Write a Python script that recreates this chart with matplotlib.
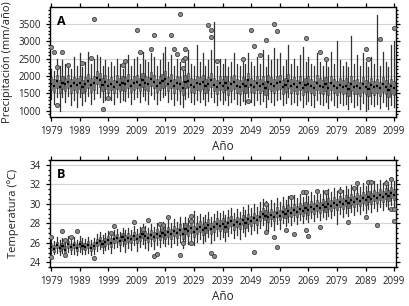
import matplotlib
matplotlib.use('Agg')
import matplotlib.pyplot as plt
from matplotlib.ticker import MultipleLocator

plt.rcParams['font.family'] = ['Open Sans', 'DejaVu Sans']

years = list(range(1979, 2100))
xticks = list(range(1979, 2100, 10))

# Panel A - precipitacion anual (mm/año)
prec_med = [1780, 1720, 1850, 1690, 1800, 1760, 1830, 1700, 1790, 1740,
            1810, 1680, 1770, 1860, 1730, 1800, 1950, 1880, 1750, 1820,
            1700, 1780, 1690, 1820, 1740, 1800, 1760, 1850, 1720, 1790,
            1830, 1750, 1880, 1800, 1760, 1900, 1840, 1720, 1790, 1860,
            1920, 1780, 1850, 1700, 1810, 1760, 1640, 1830, 1870, 1740,
            1690, 1800, 1760, 1820, 1700, 1780, 1880, 1750, 1690, 1800,
            1720, 1790, 1650, 1760, 1830, 1710, 1680, 1770, 1700, 1880,
            1740, 1690, 1800, 1720, 1780, 1650, 1820, 1760, 1700, 1790,
            1830, 1680, 1740, 1860, 1710, 1770, 1690, 1800, 1650, 1730,
            1780, 1700, 1660, 1810, 1720, 1690, 1760, 1640, 1800, 1700,
            1650, 1740, 1690, 1720, 1620, 1780, 1680, 1700, 1640, 1760,
            1690, 1620, 1730, 1670, 1710, 1640, 1760, 1680, 1600, 1700,
            1660]
prec_q1 = [1600, 1540, 1650, 1500, 1620, 1570, 1640, 1520, 1590, 1550,
           1620, 1500, 1580, 1660, 1550, 1600, 1760, 1690, 1560, 1630,
           1510, 1590, 1500, 1620, 1560, 1610, 1570, 1650, 1530, 1600,
           1640, 1560, 1680, 1610, 1570, 1700, 1640, 1530, 1600, 1660,
           1720, 1580, 1650, 1510, 1620, 1560, 1450, 1640, 1670, 1550,
           1500, 1610, 1560, 1620, 1500, 1590, 1680, 1560, 1490, 1610,
           1530, 1590, 1460, 1570, 1630, 1520, 1490, 1570, 1500, 1690,
           1540, 1500, 1600, 1520, 1580, 1460, 1620, 1560, 1500, 1590,
           1630, 1480, 1540, 1660, 1510, 1570, 1490, 1600, 1460, 1530,
           1580, 1500, 1460, 1600, 1520, 1490, 1560, 1440, 1590, 1500,
           1450, 1540, 1480, 1520, 1410, 1570, 1470, 1490, 1420, 1550,
           1480, 1410, 1520, 1460, 1500, 1430, 1550, 1470, 1390, 1490,
           1450]
prec_q3 = [1960, 1900, 2030, 1880, 1990, 1950, 2020, 1900, 1980, 1930,
           2000, 1880, 1960, 2060, 1930, 2010, 2150, 2080, 1950, 2020,
           1900, 1980, 1890, 2020, 1940, 2000, 1960, 2050, 1920, 1990,
           2030, 1950, 2090, 2000, 1960, 2110, 2040, 1920, 1990, 2060,
           2130, 1980, 2050, 1900, 2010, 1960, 1850, 2040, 2080, 1940,
           1900, 2000, 1960, 2030, 1900, 1980, 2080, 1950, 1890, 2000,
           1920, 1990, 1860, 1960, 2040, 1910, 1880, 1980, 1900, 2080,
           1950, 1890, 2010, 1920, 1990, 1860, 2030, 1960, 1900, 2000,
           2040, 1880, 1950, 2070, 1910, 1980, 1890, 2010, 1850, 1940,
           1990, 1900, 1860, 2020, 1930, 1890, 1970, 1840, 2010, 1900,
           1860, 1950, 1890, 1930, 1820, 1990, 1880, 1910, 1840, 1970,
           1890, 1820, 1940, 1870, 1920, 1840, 1970, 1880, 1800, 1910,
           1860]
prec_lo = [1350, 1200, 1400, 1000, 1380, 1250, 1420, 1150, 1300, 1100,
           1400, 1150, 1280, 1420, 1200, 1350, 1500, 1400, 1250, 1300,
           1450, 1300, 1200, 1380, 1250, 1320, 1280, 1400, 1200, 1330,
           1380, 1250, 1420, 1300, 1200, 1450, 1350, 1180, 1300, 1400,
           1450, 1250, 1350, 1150, 1300, 1200, 1100, 1350, 1400, 1250,
           1200, 1300, 1250, 1350, 1150, 1280, 1400, 1250, 1150, 1300,
           1200, 1300, 1150, 1250, 1350, 1180, 1150, 1280, 1200, 1400,
           1250, 1150, 1300, 1200, 1280, 1100, 1350, 1250, 1150, 1300,
           1350, 1150, 1230, 1380, 1180, 1250, 1150, 1300, 1100, 1200,
           1280, 1150, 1100, 1300, 1200, 1150, 1250, 1080, 1300, 1150,
           1100, 1220, 1150, 1200, 1050, 1250, 1100, 1150, 1050, 1230,
           1000, 1050, 1200, 1120, 1180, 1080, 1250, 1130, 1050, 1150,
           1100]
prec_hi = [2200, 2150, 2500, 2300, 2450, 2350, 2250, 2200, 2550, 2300,
           2650, 2250, 2400, 2700, 2350, 2500, 2600, 2550, 2300, 2450,
           2250, 2400, 2300, 2500, 2350, 2200, 2400, 2600, 2300, 2500,
           2550, 2350, 2700, 2450, 2400, 2650, 2550, 2300, 2450, 2650,
           2850, 2400, 2600, 2300, 2500, 2400, 2150, 2400, 2750, 2350,
           2300, 2900, 2400, 2650, 2300, 2450, 2750, 3550, 2300, 2500,
           2350, 2500, 2250, 2400, 2650, 2350, 2300, 2450, 2350, 2650,
           2400, 2300, 2550, 2350, 2750, 2250, 2600, 2450, 2800, 2500,
           2650, 2300, 2450, 2900, 2350, 2500, 2300, 2600, 2850, 2400,
           2550, 2350, 2300, 2650, 2400, 2300, 2400, 2250, 2700, 2350,
           3000, 2450, 2300, 2400, 2250, 3150, 2350, 2600, 2300, 2650,
           2400, 2250, 2550, 2350, 3750, 2300, 2700, 2400, 2250, 2900,
           3000]
prec_out_x = [1979, 1980, 1981, 1981, 1983, 1985, 1990, 1993, 1994, 1997,
              1999, 2004, 2005, 2009, 2010, 2014, 2015, 2021, 2022, 2023,
              2024, 2025, 2025, 2026, 2026, 2034, 2035, 2035, 2037, 2046,
              2048, 2049, 2050, 2052, 2054, 2057, 2058, 2068, 2073, 2075,
              2089, 2090, 2094, 2099]
prec_out_y = [2840, 2700, 2260, 1160, 2700, 2320, 2380, 2520, 3650, 1050,
              1370, 2320, 2440, 3330, 2700, 2780, 3190, 3190, 2780, 2640,
              3790, 2230, 2460, 2780, 2520, 3480, 3330, 3130, 2440, 2490,
              1280, 3330, 2870, 2610, 3040, 3500, 3300, 3100, 2700, 2490,
              2780, 2490, 3070, 3390]

# Panel B - temperatura media (ºC)
temp_med = [25.6, 25.4, 25.8, 25.5, 25.7, 25.3, 25.9, 25.6, 25.8, 25.5,
            25.9, 25.7, 25.6, 25.8, 25.5, 25.7, 26.0, 26.2, 25.9, 26.1,
            26.3, 26.0, 26.4, 26.5, 26.2, 26.6, 26.3, 26.5, 26.4, 26.7,
            26.4, 26.6, 26.9, 26.7, 26.5, 26.8, 26.6, 26.9, 26.7, 27.0,
            26.8, 27.1, 26.9, 27.2, 27.0, 27.3, 26.9, 27.4, 27.2, 27.5,
            27.1, 27.4, 27.6, 27.3, 27.5, 27.8, 27.4, 27.6, 27.9, 27.7,
            27.9, 27.6, 28.0, 28.2, 27.8, 28.1, 27.9, 28.3, 28.0, 28.4,
            28.2, 28.5, 28.3, 28.7, 29.0, 28.8, 28.6, 28.9, 28.7, 29.1,
            28.8, 29.2, 29.0, 29.3, 29.1, 29.4, 29.2, 29.5, 29.3, 29.6,
            29.4, 29.7, 29.5, 29.8, 29.6, 29.9, 29.7, 30.0, 29.8, 30.1,
            29.9, 30.2, 30.0, 30.3, 30.1, 30.4, 30.2, 30.5, 30.3, 30.6,
            30.4, 30.7, 30.5, 30.8, 30.6, 30.9, 30.7, 31.0, 30.8, 31.1,
            30.9]
temp_q1 = [25.3, 25.1, 25.5, 25.2, 25.4, 25.0, 25.5, 25.3, 25.5, 25.2,
           25.6, 25.4, 25.3, 25.5, 25.2, 25.4, 25.7, 25.8, 25.6, 25.7,
           25.9, 25.6, 26.0, 26.1, 25.8, 26.2, 25.9, 26.1, 26.0, 26.3,
           26.0, 26.2, 26.5, 26.3, 26.1, 26.4, 26.2, 26.5, 26.3, 26.6,
           26.4, 26.6, 26.4, 26.7, 26.5, 26.8, 26.4, 26.9, 26.7, 27.0,
           26.6, 26.9, 27.1, 26.8, 27.0, 27.3, 26.9, 27.1, 27.4, 27.2,
           27.4, 27.1, 27.5, 27.7, 27.3, 27.6, 27.4, 27.8, 27.5, 27.9,
           27.7, 28.0, 27.8, 28.2, 28.5, 28.3, 28.1, 28.4, 28.2, 28.6,
           28.3, 28.7, 28.5, 28.8, 28.6, 28.9, 28.7, 29.0, 28.8, 29.1,
           28.9, 29.2, 29.0, 29.3, 29.1, 29.4, 29.2, 29.5, 29.3, 29.6,
           29.4, 29.7, 29.5, 29.8, 29.6, 29.9, 29.7, 30.0, 29.8, 30.1,
           29.9, 30.2, 30.0, 30.3, 30.1, 30.4, 30.2, 30.5, 30.3, 30.6,
           30.4]
temp_q3 = [25.9, 25.8, 26.1, 25.8, 26.0, 25.7, 26.2, 25.9, 26.1, 25.9,
           26.2, 26.0, 26.0, 26.2, 25.9, 26.1, 26.4, 26.6, 26.3, 26.5,
           26.7, 26.5, 26.8, 26.9, 26.6, 27.0, 26.8, 27.0, 26.8, 27.1,
           26.9, 27.0, 27.3, 27.2, 27.0, 27.3, 27.1, 27.4, 27.2, 27.5,
           27.3, 27.6, 27.4, 27.7, 27.5, 27.9, 27.5, 28.0, 27.8, 28.1,
           27.7, 28.0, 28.2, 27.9, 28.1, 28.4, 28.0, 28.2, 28.5, 28.3,
           28.5, 28.2, 28.6, 28.8, 28.4, 28.7, 28.5, 28.9, 28.6, 29.0,
           28.8, 29.1, 28.9, 29.3, 29.6, 29.4, 29.2, 29.5, 29.3, 29.7,
           29.4, 29.8, 29.6, 29.9, 29.7, 30.0, 29.8, 30.1, 29.9, 30.2,
           30.0, 30.3, 30.1, 30.4, 30.2, 30.5, 30.3, 30.6, 30.4, 30.7,
           30.5, 30.8, 30.6, 30.9, 30.7, 31.0, 30.8, 31.1, 30.9, 31.2,
           31.0, 31.3, 31.1, 31.4, 31.2, 31.5, 31.3, 31.6, 31.4, 31.7,
           31.5]
temp_lo = [24.9, 24.8, 25.0, 24.7, 25.0, 24.6, 25.1, 24.8, 24.9, 24.7,
           25.1, 24.9, 24.8, 25.0, 24.7, 24.9, 25.2, 25.4, 25.0, 25.3,
           25.4, 25.0, 25.5, 25.6, 25.2, 25.7, 25.1, 25.5, 25.3, 25.8,
           25.2, 25.6, 25.9, 25.5, 25.3, 25.7, 25.4, 25.8, 25.6, 26.0,
           25.7, 25.9, 25.6, 26.0, 25.8, 26.1, 25.5, 26.2, 25.9, 26.3,
           25.8, 26.1, 26.4, 26.0, 26.2, 26.6, 26.0, 26.3, 26.7, 26.4,
           26.6, 26.2, 26.7, 27.0, 26.5, 26.8, 26.4, 27.1, 26.7, 27.2,
           26.9, 27.3, 27.0, 27.5, 27.8, 27.4, 27.2, 27.7, 27.3, 27.9,
           27.4, 28.0, 27.7, 28.1, 27.8, 28.2, 27.9, 28.3, 28.0, 28.4,
           28.1, 28.5, 28.2, 28.6, 28.3, 28.7, 28.4, 28.8, 28.5, 28.9,
           27.9, 29.0, 28.7, 29.1, 28.8, 29.2, 28.9, 29.3, 29.0, 29.4,
           29.1, 29.5, 29.2, 29.6, 29.3, 29.7, 29.4, 29.8, 29.5, 29.9,
           29.6]
temp_hi = [26.3, 26.2, 26.6, 26.3, 26.5, 26.1, 26.7, 26.4, 26.6, 26.3,
           26.7, 26.5, 26.4, 26.6, 26.3, 26.5, 26.9, 27.1, 26.8, 27.0,
           27.2, 26.9, 27.3, 27.4, 27.1, 27.5, 27.3, 27.5, 27.3, 27.7,
           27.4, 27.6, 27.9, 27.7, 27.5, 27.9, 27.6, 28.0, 27.8, 28.1,
           27.9, 28.3, 28.0, 28.4, 28.1, 28.6, 28.0, 28.7, 28.5, 28.8,
           29.3, 28.8, 29.0, 28.6, 28.9, 29.2, 28.7, 29.0, 29.3, 29.1,
           29.3, 28.9, 29.4, 29.6, 29.1, 29.5, 29.2, 29.7, 29.4, 29.9,
           29.6, 30.0, 29.7, 30.2, 30.5, 30.3, 30.0, 30.4, 30.1, 30.6,
           30.2, 30.7, 30.4, 30.8, 30.5, 30.9, 30.6, 31.0, 30.7, 31.1,
           30.8, 31.2, 30.9, 31.3, 31.0, 31.4, 31.1, 31.5, 31.2, 31.6,
           31.3, 31.7, 31.4, 31.8, 31.5, 31.9, 31.6, 32.0, 31.7, 32.1,
           31.8, 32.2, 31.9, 32.3, 32.0, 32.4, 32.1, 32.5, 32.2, 32.6,
           32.3]
temp_out_x = [1979, 1979, 1983, 1984, 1984, 1986, 1988, 1994, 2000, 2001,
              2008, 2011, 2013, 2015, 2016, 2017, 2018, 2020, 2024, 2025,
              2028, 2028, 2028, 2035, 2036, 2050, 2054, 2054, 2057, 2058,
              2061, 2063, 2064, 2067, 2068, 2068, 2069, 2072, 2073, 2075,
              2080, 2083, 2085, 2086, 2089, 2090, 2091, 2093, 2096, 2098,
              2098, 2099, 2099]
temp_out_y = [26.6, 24.5, 27.2, 26.3, 24.7, 26.6, 27.2, 24.4, 27.0, 27.7,
              28.1, 27.4, 28.3, 24.6, 24.9, 27.9, 27.8, 28.6, 24.7, 26.0,
              28.8, 28.2, 26.0, 25.0, 24.6, 25.1, 30.0, 27.1, 26.6, 25.6,
              27.3, 30.7, 26.9, 31.2, 31.2, 27.3, 26.7, 31.3, 27.6, 31.2,
              31.3, 28.1, 31.6, 32.1, 28.7, 32.2, 32.2, 27.8, 32.1, 32.6,
              29.5, 29.5, 28.2]


def dibujar_cajas(ax, med, q1, q3, lo, hi, out_x, out_y):
    stats = []
    for i in range(len(years)):
        stats.append({'med': med[i], 'q1': q1[i], 'q3': q3[i],
                      'whislo': lo[i], 'whishi': hi[i], 'fliers': []})
    ax.bxp(stats, positions=years, widths=0.75, patch_artist=True,
           showfliers=False, showcaps=False, manage_ticks=False,
           boxprops=dict(facecolor='#6e6e6e', edgecolor='#4a4a4a', linewidth=0.4),
           whiskerprops=dict(color='#333333', linewidth=0.9),
           medianprops=dict(color='black', linewidth=1.6))
    ax.plot(out_x, out_y, 'o', ms=3.0, mfc='#8c8c8c', mec='#404040',
            mew=0.6, zorder=5)
    ax.set_xlim(1978.6, 2099.6)
    ax.set_xticks(xticks)
    ax.set_xticklabels([str(x) for x in xticks], fontsize=7, color='#222222')
    ax.tick_params(axis='x', direction='out', length=3, top=True, width=0.9)
    ax.tick_params(axis='y', which='both', direction='out', right=True,
                   labelsize=7, labelcolor='#222222', width=0.9)
    ax.tick_params(axis='y', which='major', length=3)
    ax.tick_params(axis='y', which='minor', length=1.5)
    ax.grid(axis='y', color='#d4d4d4', linewidth=0.8)
    ax.set_axisbelow(True)
    for s in ax.spines.values():
        s.set_linewidth(1.0)
    ax.set_xlabel('Año', fontsize=8.5, color='#222222', labelpad=2)


fig = plt.figure(figsize=(4.09, 3.06), dpi=100)
ax1 = fig.add_axes([0.122, 0.618, 0.846, 0.359])
ax2 = fig.add_axes([0.122, 0.127, 0.846, 0.350])

dibujar_cajas(ax1, prec_med, prec_q1, prec_q3, prec_lo, prec_hi, prec_out_x, prec_out_y)
ax1.set_ylim(820, 3990)
ax1.set_yticks([1000, 1500, 2000, 2500, 3000, 3500])
ax1.yaxis.set_minor_locator(MultipleLocator(100))
ax1.set_ylabel('Precipitación (mm/año)', fontsize=8, color='#222222', labelpad=4)
ax1.text(0.02, 0.93, 'A', transform=ax1.transAxes, fontsize=9, fontweight='bold',
         va='top', ha='left')

dibujar_cajas(ax2, temp_med, temp_q1, temp_q3, temp_lo, temp_hi, temp_out_x, temp_out_y)
ax2.set_ylim(23.5, 34.5)
ax2.set_yticks([24, 26, 28, 30, 32, 34])
ax2.yaxis.set_minor_locator(MultipleLocator(0.5))
ax2.set_ylabel('Temperatura (ºC)', fontsize=8, color='#222222', labelpad=8)
ax2.text(0.02, 0.93, 'B', transform=ax2.transAxes, fontsize=9, fontweight='bold',
         va='top', ha='left')

fig.savefig('out.png', dpi=100)
